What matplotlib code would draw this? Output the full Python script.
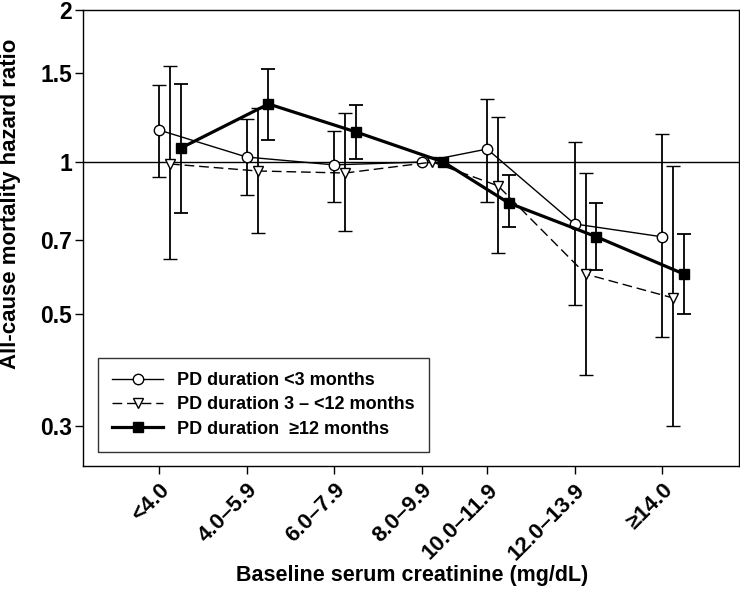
import numpy as np
import matplotlib
matplotlib.use('Agg')
import matplotlib.pyplot as plt

plt.rcParams['font.family'] = ['Liberation Sans', 'DejaVu Sans']
plt.rcParams['font.weight'] = 'bold'

# creatinine groups (group 4 sits closer to group 3 in the original)
Cat = ['<4.0', '4.0\u20135.9', '6.0\u20137.9', '8.0\u20139.9',
       '10.0\u201311.9', '12.0\u201313.9', '\u226514.0']
X_Pos = np.array([0, 1, 2, 3, 3.75, 4.75, 5.75])

# PD duration <3 months
HR_1 = [1.157, 1.023, 0.987, 1.0, 1.061, 0.754, 0.711]
Lo_1 = [0.934, 0.860, 0.833, np.nan, 0.833, 0.521, 0.450]
Hi_1 = [1.420, 1.217, 1.152, np.nan, 1.333, 1.096, 1.136]

# PD duration 3 - <12 months
HR_2 = [0.991, 0.960, 0.951, 1.0, 0.897, 0.600, 0.538]
Lo_2 = [0.643, 0.724, 0.730, np.nan, 0.661, 0.379, 0.300]
Hi_2 = [1.550, 1.279, 1.251, np.nan, 1.228, 0.951, 0.982]

# PD duration >=12 months
HR_3 = [1.066, 1.303, 1.147, 1.0, 0.829, 0.711, 0.600]
Lo_3 = [0.793, 1.106, 1.014, np.nan, 0.744, 0.611, 0.500]
Hi_3 = [1.427, 1.529, 1.297, np.nan, 0.943, 0.829, 0.720]

Labels = ['PD duration <3 months', 'PD duration 3 \u2013 <12 months',
          'PD duration  \u226512 months']
Tick_Y = [0.3, 0.5, 0.7, 1, 1.5, 2]

fig = plt.figure(figsize=(7.4, 5.89), dpi=100)
ax = fig.add_axes([0.1122, 0.2088, 0.8865, 0.7742])
ax.set_yscale('log')

ax.axhline(1, color='black', lw=1.0, zorder=1)

def err(hr, lo, hi):
    hr, lo, hi = np.array(hr), np.array(lo), np.array(hi)
    return [hr - lo, hi - hr]

ekw = dict(ecolor='black', elinewidth=1.3, capsize=4.7, capthick=1.3)
l1 = ax.errorbar(X_Pos, HR_1, yerr=err(HR_1, Lo_1, Hi_1), fmt='-o', color='black',
                 lw=1.0, mfc='white', mec='black', ms=7.5, mew=1.0, zorder=3, **ekw)
l2 = ax.errorbar(X_Pos + 0.125, HR_2, yerr=err(HR_2, Lo_2, Hi_2), fmt='--v', color='black',
                 lw=1.0, dashes=(7, 3.5), mfc='white', mec='black', ms=7.5, mew=1.0,
                 zorder=3, **ekw)
l3 = ax.errorbar(X_Pos + 0.25, HR_3, yerr=err(HR_3, Lo_3, Hi_3), fmt='-s', color='black',
                 lw=2.3, mfc='black', mec='black', ms=7.5, zorder=4, **ekw)

ax.set_xlim(-0.87, 6.63)
ax.set_ylim(0.25, 2)
ax.set_yticks(Tick_Y)
ax.set_yticklabels([str(t) for t in Tick_Y], fontsize=16.5, fontweight='bold')
ax.yaxis.set_minor_locator(matplotlib.ticker.NullLocator())
ax.yaxis.set_minor_formatter(matplotlib.ticker.NullFormatter())
ax.set_xticks(X_Pos)
ax.set_xticklabels(Cat, rotation=45, ha='right', va='top', rotation_mode='anchor',
                   fontsize=16, fontweight='bold')
ax.tick_params(direction='out', length=5.5, width=1.0)
ax.tick_params(axis='y', pad=2.5)
ax.tick_params(axis='x', pad=4)
for sp in ax.spines.values():
    sp.set_linewidth(1.0)

ax.set_ylabel('All-cause mortality hazard ratio', fontsize=16, fontweight='bold')
ax.yaxis.set_label_coords(-0.094, 0.575)
ax.set_xlabel('Baseline serum creatinine (mg/dL)', fontsize=15.5, fontweight='bold')
ax.xaxis.set_label_coords(0.502, -0.216)

leg = ax.legend([l1[0], l2[0], l3[0]], Labels, loc='lower left',
                bbox_to_anchor=(0.0229, 0.0307), borderaxespad=0,
                fontsize=13, frameon=True, fancybox=False, edgecolor='black',
                handlelength=2.8, handletextpad=0.75, borderpad=0.8, labelspacing=0.4)
leg.get_frame().set_linewidth(1.0)
for t in leg.get_texts():
    t.set_fontweight('bold')

plt.savefig('out.png', dpi=100)
